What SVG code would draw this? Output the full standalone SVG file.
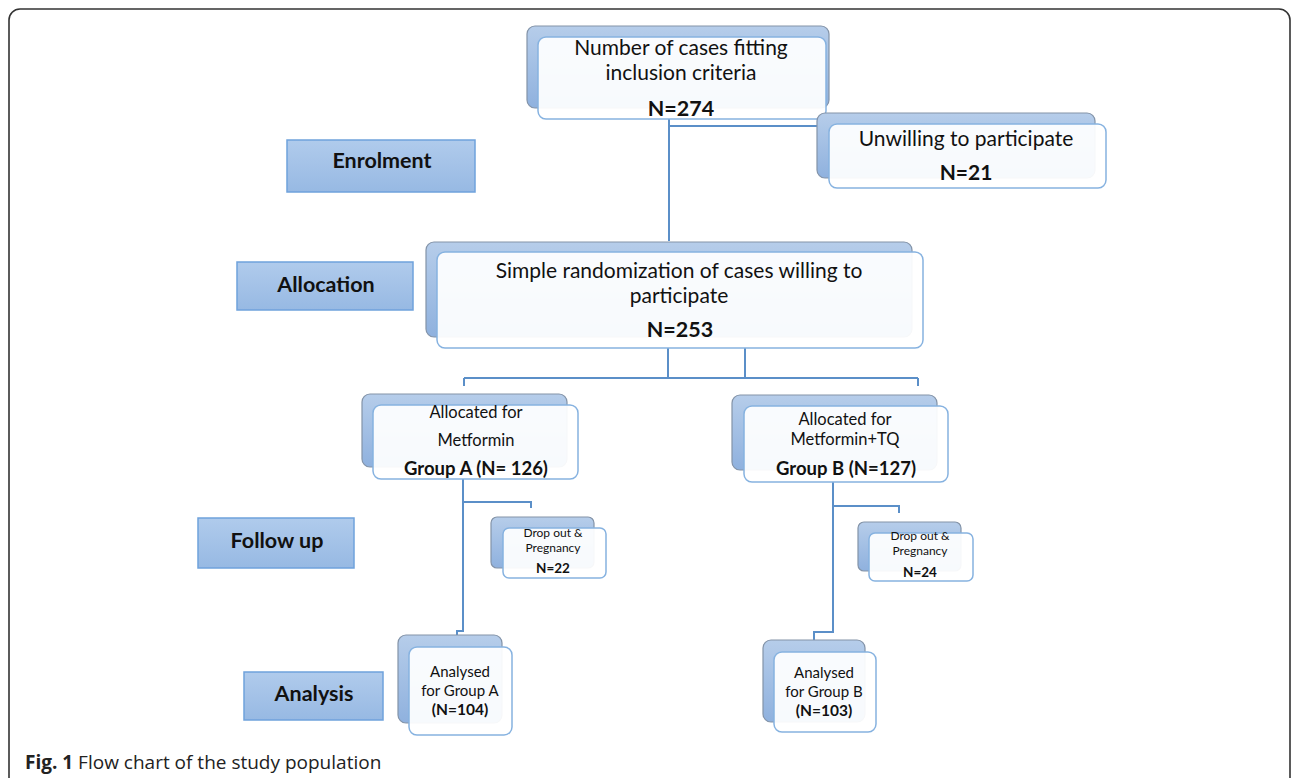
<svg xmlns="http://www.w3.org/2000/svg" width="1292" height="778" viewBox="0 0 1292 778">
<defs>
<linearGradient id="gb" x1="0" y1="0" x2="0" y2="1"><stop offset="0" stop-color="#b6cdea"/><stop offset="1" stop-color="#8fb1de"/></linearGradient>
<linearGradient id="gl" x1="0" y1="0" x2="0" y2="1"><stop offset="0" stop-color="#b0cbec"/><stop offset="1" stop-color="#97b9e3"/></linearGradient>
<style>
.back{fill:url(#gb);stroke:#8393a8;stroke-width:1.2}
.front{fill:#fff;fill-opacity:0.93;stroke:#86b2e0;stroke-width:1.5}
.lab{fill:url(#gl);stroke:#6fa2dc;stroke-width:1.5}
.t{font-family:Lato,"Liberation Sans",sans-serif;fill:#111;text-anchor:middle}
.b{font-weight:bold}
.c{fill:none;stroke:#5b8fc8;stroke-width:2}
</style>
</defs>
<rect x="0" y="0" width="1292" height="778" fill="#fff"/>
<rect x="9" y="9" width="1281" height="800" rx="11" fill="none" stroke="#333" stroke-width="1.6"/>

<g id="connectors">
<path class="c" d="M669 119V241M669 126H818"/>
<path class="c" d="M668 348V378M745 348V378M464 378H918M464 378V386M918 378V386"/>
<path class="c" d="M463 479V631H457V636M463 502H531V508"/>
<path class="c" d="M833 482V632H814V640M833 506H899V513"/>
</g>

<g id="enrolment"><rect class="lab" x="287" y="140" width="188" height="52"/><text class="t b" x="382" y="168" font-size="21.5">Enrolment</text></g>
<g id="allocation"><rect class="lab" x="237" y="262" width="176" height="48"/><text class="t b" x="326" y="292" font-size="21.5">Allocation</text></g>
<g id="followup"><rect class="lab" x="198" y="518" width="156" height="50"/><text class="t b" x="277" y="548" font-size="21.5">Follow up</text></g>
<g id="analysis"><rect class="lab" x="244" y="672" width="139" height="48"/><text class="t b" x="314" y="701" font-size="21.5">Analysis</text></g>

<g id="n1">
<rect class="back" x="527" y="26" width="302" height="82" rx="8"/>
<rect class="front" x="538" y="37" width="288" height="82" rx="8"/>
<text class="t" x="681" y="55" font-size="21">Number of cases fitting</text>
<text class="t" x="681" y="80" font-size="21">inclusion criteria</text>
<text class="t b" x="681" y="116" font-size="21.5">N=274</text>
</g>

<g id="n2">
<rect class="back" x="817" y="113" width="278" height="65" rx="8"/>
<rect class="front" x="829" y="124" width="277" height="64" rx="8"/>
<text class="t" x="966" y="146" font-size="21">Unwilling to participate</text>
<text class="t b" x="966" y="180" font-size="21">N=21</text>
</g>

<g id="n3">
<rect class="back" x="426" y="242" width="486" height="95" rx="8"/>
<rect class="front" x="437" y="252" width="486" height="96" rx="8"/>
<text class="t" x="679" y="278" font-size="21">Simple randomization of cases willing to</text>
<text class="t" x="679" y="303" font-size="21">participate</text>
<text class="t b" x="680" y="337" font-size="21.5">N=253</text>
</g>

<g id="nA">
<rect class="back" x="362" y="394" width="205" height="73" rx="8"/>
<rect class="front" x="373" y="405" width="205" height="74" rx="8"/>
<text class="t" x="476" y="418" font-size="16.5">Allocated for</text>
<text class="t" x="476" y="446" font-size="16.5">Metformin</text>
<text class="t b" x="476" y="475" font-size="18.5">Group A (N= 126)</text>
</g>

<g id="nB">
<rect class="back" x="732" y="395" width="205" height="75" rx="8"/>
<rect class="front" x="744" y="406" width="204" height="76" rx="8"/>
<text class="t" x="845" y="425" font-size="16.5">Allocated for</text>
<text class="t" x="845" y="445" font-size="16.5">Metformin+TQ</text>
<text class="t b" x="846" y="475" font-size="18.5">Group B (N=127)</text>
</g>

<g id="dA">
<rect class="back" x="491" y="517" width="103" height="51" rx="6"/>
<rect class="front" x="503" y="528" width="103" height="50" rx="6"/>
<text class="t" x="553" y="537" font-size="12">Drop out &amp;</text>
<text class="t" x="553" y="552" font-size="12">Pregnancy</text>
<text class="t b" x="553" y="573" font-size="13.5">N=22</text>
</g>

<g id="dB">
<rect class="back" x="858" y="522" width="103" height="49" rx="6"/>
<rect class="front" x="869" y="533" width="104" height="48" rx="6"/>
<text class="t" x="920" y="540" font-size="12">Drop out  &amp;</text>
<text class="t" x="920" y="555" font-size="12">Pregnancy</text>
<text class="t b" x="920" y="577" font-size="13.5">N=24</text>
</g>

<g id="aA">
<rect class="back" x="398" y="635" width="104" height="88" rx="8"/>
<rect class="front" x="409" y="647" width="103" height="88" rx="8"/>
<text class="t" x="460" y="677" font-size="15">Analysed</text>
<text class="t" x="460" y="696" font-size="15">for Group A</text>
<text class="t b" x="460" y="715" font-size="15.5">(N=104)</text>
</g>

<g id="aB">
<rect class="back" x="763" y="640" width="102" height="82" rx="8"/>
<rect class="front" x="774" y="652" width="102" height="80" rx="8"/>
<text class="t" x="824" y="678" font-size="15">Analysed</text>
<text class="t" x="824" y="697" font-size="15">for Group B</text>
<text class="t b" x="824" y="716" font-size="15.5">(N=103)</text>
</g>

<g id="caption">
<text x="25" y="769" font-family="'Open Sans','Liberation Sans',sans-serif" font-size="19" fill="#222"><tspan font-weight="bold">Fig. 1</tspan> Flow chart of the study population</text>
</g>
</svg>
